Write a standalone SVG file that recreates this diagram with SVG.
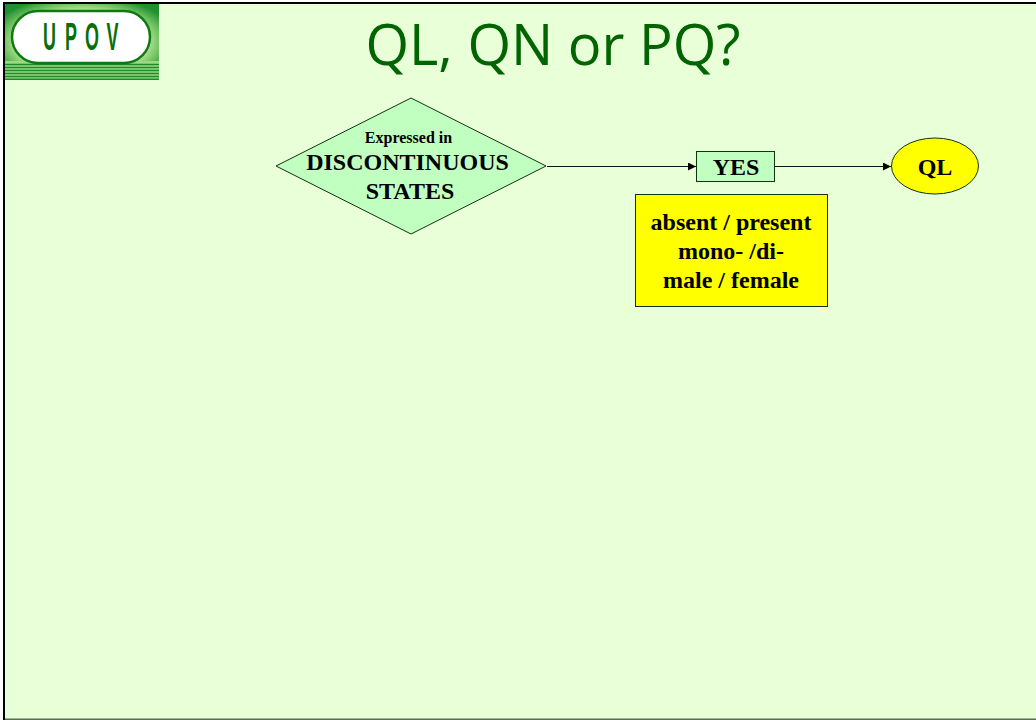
<svg xmlns="http://www.w3.org/2000/svg" width="1036" height="720" viewBox="0 0 1036 720">
<style>
.b{font-family:"Liberation Serif","Times New Roman",serif;font-weight:bold;fill:#000;text-anchor:middle}
.f{font-size:24px}
.l{fill:none;stroke:#111;stroke-width:1}
.s{stroke:#123312;stroke-width:1}
.u{font-family:"Liberation Sans",Arial,sans-serif;font-weight:bold;font-size:39px;fill:#0a6e0a;text-anchor:middle}
</style>
<defs>
<marker id="a" markerUnits="userSpaceOnUse" markerWidth="9" markerHeight="8" refX="8" refY="4" orient="auto"><path d="M0 0L8 4L0 8Z" fill="#000"/></marker>
<radialGradient id="g" cx=".5" cy=".5" r=".62"><stop offset=".6" stop-color="#d8f5c0"/><stop offset=".8" stop-color="#7cc868"/><stop offset="1" stop-color="#1f8f2f"/></radialGradient>
</defs>
<rect width="1036" height="720" fill="#e8ffd8"/>
<rect x="0" y="0" width="1036" height="2" fill="#fff"/>
<rect x="0" y="0" width="3" height="720" fill="#fff"/>
<rect x="3" y="2" width="1033" height="2" fill="#000"/>
<rect x="3" y="2" width="2" height="718" fill="#000"/>
<rect x="5" y="718.500" width="1031" height="1.500" fill="#5a6b55"/>
<g id="logo">
<rect x="5" y="4" width="154" height="76" fill="url(#g)"/>
<rect x="5" y="61" width="154" height="19" fill="#9bd884"/>
<path stroke="#1f8a2a" stroke-width="1.500" d="M5 64.500H159M5 67.500H159M5 70.500H159M5 73.500H159M5 76.500H159M5 79.200H159"/>
<rect x="12" y="11" width="138" height="52" rx="26" fill="#fff" stroke="#0f7a0f" stroke-width="2.500"/>
<text class="u" transform="translate(49.500 50) scale(.46 1)">U</text>
<text class="u" transform="translate(71 50) scale(.46 1)">P</text>
<text class="u" transform="translate(92 50) scale(.46 1)">O</text>
<text class="u" transform="translate(112.500 50) scale(.46 1)">V</text>
</g>
<text id="title" x="553" y="65" font-family="'Open Sans','Noto Sans',sans-serif" font-size="57" fill="#006400" text-anchor="middle" textLength="375" lengthAdjust="spacingAndGlyphs">QL, QN or PQ?</text>
<g id="connectors">
<path class="l" d="M547 166.500H696" marker-end="url(#a)"/>
<path class="l" d="M775 166.500H891" marker-end="url(#a)"/>
</g>
<g id="decision">
<polygon class="s" points="411,98 546,166 411,234 276,166" fill="#c0ffc0"/>
<text class="b" x="408.500" y="143" font-size="16">Expressed in</text>
<text class="b f" x="407.500" y="170">DISCONTINUOUS</text>
<text class="b f" x="410" y="199">STATES</text>
</g>
<g id="yes">
<rect class="s" x="696.500" y="151.500" width="78" height="30" fill="#c0ffc0"/>
<text class="b f" x="736" y="175">YES</text>
</g>
<g id="ql">
<ellipse class="s" cx="935" cy="166" rx="43.500" ry="28" fill="#ff0"/>
<text class="b f" x="935" y="175">QL</text>
</g>
<g id="examples">
<rect class="s" x="635.500" y="194.500" width="192" height="112" fill="#ff0"/>
<text class="b f" x="731" y="230">absent / present</text>
<text class="b f" x="731" y="259">mono- /di-</text>
<text class="b f" x="731" y="288">male / female</text>
</g>
</svg>
